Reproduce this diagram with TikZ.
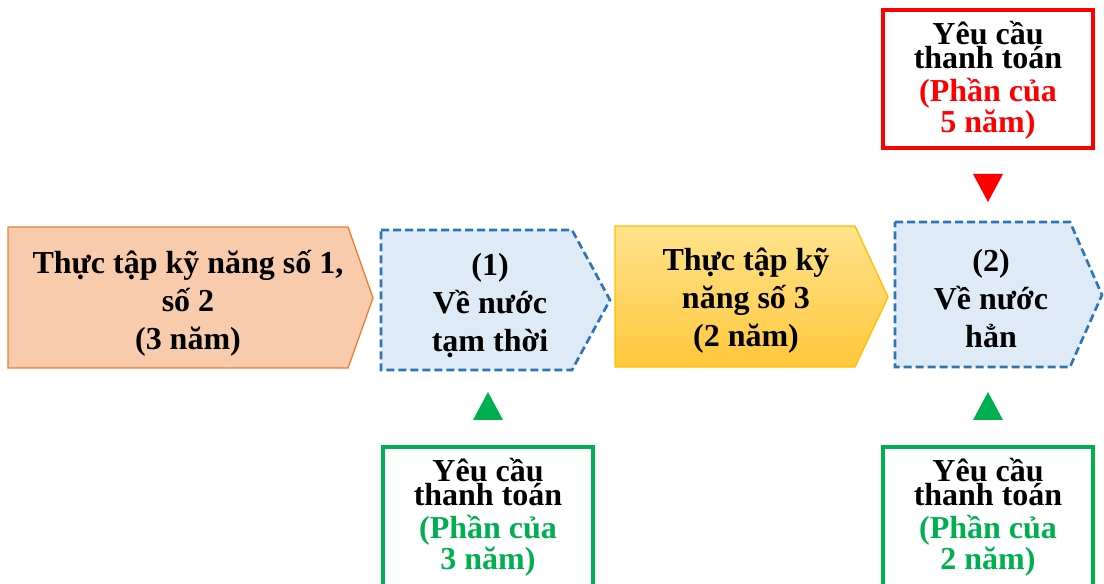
\documentclass[tikz,border=0pt]{standalone}
\usepackage{fontspec}
\setmainfont{Liberation Serif}
\definecolor{peach}{HTML}{F8CBAD}
\definecolor{peachline}{HTML}{ED7D31}
\definecolor{skyfill}{HTML}{DEEBF7}
\definecolor{skyline}{HTML}{2E75B6}
\definecolor{goldtop}{HTML}{FFE28C}
\definecolor{goldbot}{HTML}{FFC83C}
\definecolor{goldline}{HTML}{FFC000}
\definecolor{paygreen}{HTML}{00B050}
\definecolor{payred}{HTML}{FF0000}

\begin{document}
\begin{tikzpicture}[x=0.75pt,y=-0.75pt,
	stage/.style={font=\bfseries\fontsize{24}{28.5}\selectfont,align=center,inner sep=0pt},
	ask/.style={font=\bfseries\fontsize{24}{18}\selectfont,align=center,inner sep=0pt},
	backstep/.style={fill=skyfill,draw=skyline,line width=2pt,dash pattern=on 6pt off 3pt},
	paybox/.style={line width=2.5pt}]
	\useasboundingbox (0,0) rectangle (1104,584);
	% stages along the way
	\filldraw[fill=peach,draw=peachline,line width=1pt] (8,227) -- (348,227) -- (373,298) -- (348,368) -- (8,368) -- cycle;
	\node[stage] (skill12) at (188,303) {Thực tập kỹ năng số 1,\\số 2\\(3 năm)};
	\filldraw[backstep] (381,230) -- (572,230) -- (610,300) -- (572,370) -- (381,370) -- cycle;
	\node[stage] (home1) at (490,306) {(1)\\Về nước\\tạm thời};
	\shade[top color=goldtop,bottom color=goldbot] (615,226) -- (855,226) -- (888,297) -- (855,367) -- (615,367) -- cycle;
	\draw[goldline,line width=1pt] (615,226) -- (855,226) -- (888,297) -- (855,367) -- (615,367) -- cycle;
	\node[stage] (skill3) at (746,301) {Thực tập kỹ\\năng số 3\\(2 năm)};
	\filldraw[backstep] (895,222) -- (1070,222) -- (1102,295) -- (1070,367) -- (895,367) -- cycle;
	\node[stage] (home2) at (991,299) {(2)\\Về nước\\hẳn};
	% payment requests
	\draw[paybox,payred] (883,10) rectangle (1093,148);
	\node[ask] (pay5) at (988,80) {Yêu cầu\\thanh toán\\[7pt]\textcolor{payred}{(Phần của}\\\textcolor{payred}{5 năm)}};
	\fill[payred] (973,174) -- (1003,174) -- (988,202) -- cycle;
	\draw[paybox,paygreen] (383,586) -- (383,447) -- (593,447) -- (593,586);
	\node[ask] (pay3) at (488,517) {Yêu cầu\\thanh toán\\[7pt]\textcolor{paygreen}{(Phần của}\\\textcolor{paygreen}{3 năm)}};
	\fill[paygreen] (473,420) -- (503,420) -- (488,392) -- cycle;
	\draw[paybox,paygreen] (883,586) -- (883,447) -- (1093,447) -- (1093,586);
	\node[ask] (pay2) at (988,517) {Yêu cầu\\thanh toán\\[7pt]\textcolor{paygreen}{(Phần của}\\\textcolor{paygreen}{2 năm)}};
	\fill[paygreen] (973,420) -- (1003,420) -- (988,392) -- cycle;
\end{tikzpicture}
\end{document}
